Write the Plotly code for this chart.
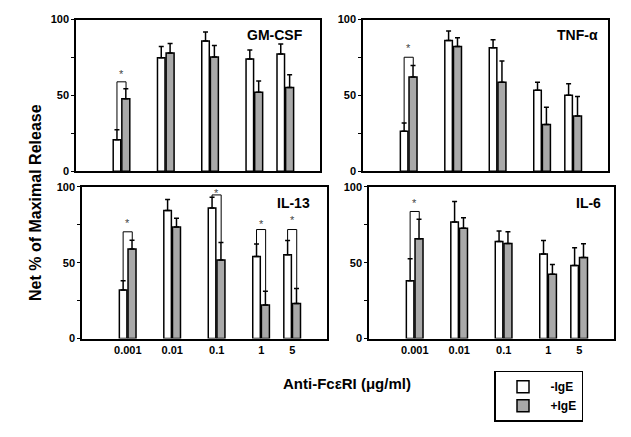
import numpy as np
import plotly.graph_objects as go

# ---- data ----
conc = [0.001, 0.01, 0.1, 1, 5]
conc_labels = ["0.001", "0.01", "0.1", "1", "5"]

gmcsf_minus = [20.9, 74.8, 85.9, 74.1, 77.4]
gmcsf_minus_err = [6.5, 7.5, 6.0, 5.8, 6.6]
gmcsf_plus = [47.9, 78.0, 75.4, 52.1, 55.3]
gmcsf_plus_err = [6.6, 6.2, 7.5, 7.5, 8.4]

tnf_minus = [26.5, 86.3, 81.4, 53.4, 50.2]
tnf_minus_err = [5.3, 6.2, 5.4, 5.3, 7.5]
tnf_plus = [62.2, 82.3, 58.8, 30.8, 36.5]
tnf_plus_err = [7.5, 5.7, 13.9, 11.5, 12.8]

il13_minus = [32.0, 84.4, 86.1, 54.2, 55.2]
il13_minus_err = [6.2, 7.3, 7.0, 8.1, 9.4]
il13_plus = [59.1, 73.6, 51.8, 22.2, 23.2]
il13_plus_err = [5.8, 5.8, 11.5, 9.0, 9.8]

il6_minus = [38.2, 76.8, 64.0, 55.7, 48.2]
il6_minus_err = [14.5, 13.6, 7.0, 8.9, 11.7]
il6_plus = [65.9, 72.7, 62.7, 42.4, 53.5]
il6_plus_err = [12.8, 7.0, 7.7, 6.4, 9.0]

# significance brackets: (concentration index, bracket level, asterisk level)
gmcsf_sig = [(0, 59.0, 65.6)]
tnf_sig = [(0, 75.2, 82.3)]
il13_sig = [(0, 70.4, 77.2), (2, 94.7, 97.4), (3, 71.9, 76.9), (4, 71.9, 79.3)]
il6_sig = [(0, 83.8, 90.4)]

panels = [
    ("GM-CSF", gmcsf_minus, gmcsf_minus_err, gmcsf_plus, gmcsf_plus_err, gmcsf_sig),
    ("TNF-α", tnf_minus, tnf_minus_err, tnf_plus, tnf_plus_err, tnf_sig),
    ("IL-13", il13_minus, il13_minus_err, il13_plus, il13_plus_err, il13_sig),
    ("IL-6", il6_minus, il6_minus_err, il6_plus, il6_plus_err, il6_sig),
]

W, H = 631, 437
# pixel boxes (left, right, top, bottom)
boxes = [(76, 320, 14, 170), (363, 608, 14, 170), (82, 327, 186, 342), (369, 614, 186, 342)]
# panel label positions: (right-edge pixel x, center pixel y)
label_pos = [(305, 30), (600, 30), (312, 203), (603, 203)]

FONT = "Arial, 'Liberation Sans', sans-serif"
GRAY = "#a9a9a9"
xpos = np.log10(conc)
xrange = [-4.03, 1.48]

fig = go.Figure()
layout = {}
for i, (name, wm, we, gp, ge, sig) in enumerate(panels):
    n = "" if i == 0 else str(i + 1)
    xa, ya = "x" + n, "y" + n
    fig.add_trace(go.Bar(
        x=xpos, y=wm, xaxis=xa, yaxis=ya, name="-IgE", showlegend=(i == 0),
        offset=-0.19, width=0.17, marker=dict(color="white", line=dict(color="black", width=1.5)),
        error_y=dict(type="data", array=we, arrayminus=[0] * 5, symmetric=False,
                     color="black", thickness=1.5, width=2.5),
    ))
    fig.add_trace(go.Bar(
        x=xpos, y=gp, xaxis=xa, yaxis=ya, name="+IgE", showlegend=(i == 0),
        offset=0.005, width=0.18, marker=dict(color=GRAY, line=dict(color="black", width=1.5)),
        error_y=dict(type="data", array=ge, arrayminus=[0] * 5, symmetric=False,
                     color="black", thickness=1.5, width=2.5),
    ))
    for (k, lev, star) in sig:
        xw = xpos[k] - 0.105
        xg = xpos[k] + 0.1
        fig.add_trace(go.Scatter(
            x=[xw, xw, xg, xg], y=[wm[k] + we[k], lev, lev, gp[k] + ge[k]],
            xaxis=xa, yaxis=ya, mode="lines", line=dict(color="black", width=1),
            showlegend=False, hoverinfo="skip", cliponaxis=False,
        ))
        fig.add_annotation(x=(xw + xg) / 2, y=star, xref=xa, yref=ya, text="*",
                           showarrow=False, yanchor="middle", yshift=-2,
                           font=dict(family=FONT, size=11, color="#444"))
    l, r, t, b = boxes[i]
    bottom_row = i >= 2
    layout["xaxis" + n] = dict(
        domain=[l / W, r / W], anchor=ya, range=xrange, showgrid=False, zeroline=False,
        showline=True, linecolor="black", linewidth=1.5, mirror=True,
        tickvals=xpos, ticktext=conc_labels, showticklabels=bottom_row, ticks="",
        tickfont=dict(family=FONT, size=11, color="black", weight="bold"),
    )
    layout["yaxis" + n] = dict(
        domain=[1 - b / H, 1 - t / H], anchor=xa, range=[0, 100], showgrid=False, zeroline=False,
        showline=True, linecolor="black", linewidth=1.5, mirror=True,
        tickvals=[0, 50, 100], ticks="outside", ticklen=3, tickcolor="black",
        minor=dict(tickvals=[25, 75], ticks="outside", ticklen=3, tickcolor="black"),
        tickfont=dict(family=FONT, size=11, color="black", weight="bold"),
    )
    lx, ly = label_pos[i]
    fig.add_annotation(x=lx / W, y=1 - ly / H, xref="paper", yref="paper", text=name,
                       showarrow=False, xanchor="right", yanchor="middle",
                       font=dict(family=FONT, size=14, color="black", weight="bold"))

fig.add_annotation(x=25 / W, y=1 - 202 / H, xref="paper", yref="paper",
                   text="Net % of Maximal Release", textangle=-90, showarrow=False,
                   font=dict(family=FONT, size=16, color="black", weight="bold"))
fig.add_annotation(x=347 / W, y=1 - 399 / H, xref="paper", yref="paper",
                   text="Anti-FcεRI (μg/ml)", showarrow=False,
                   font=dict(family=FONT, size=15, color="black", weight="bold"))

fig.update_layout(
    width=W, height=H, margin=dict(l=0, r=0, t=0, b=0),
    paper_bgcolor="white", plot_bgcolor="white", barmode="overlay",
    legend=dict(x=494 / W, y=1 - 375 / H, xanchor="left", yanchor="top",
                bordercolor="black", borderwidth=1.5, bgcolor="white",
                font=dict(family=FONT, size=12, color="black", weight="bold"),
                tracegroupgap=0, itemwidth=45),
    **layout,
)
fig.write_html("out.html", config={"displayModeBar": False},
               post_script="document.body.style.margin='0';")
